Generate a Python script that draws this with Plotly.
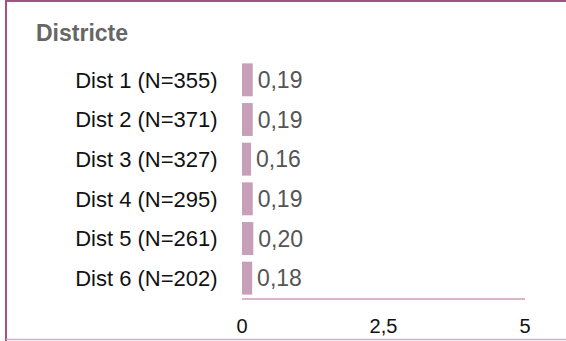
import plotly.graph_objects as go

categories = ["Dist 1 (N=355)", "Dist 2 (N=371)", "Dist 3 (N=327)",
              "Dist 4 (N=295)", "Dist 5 (N=261)", "Dist 6 (N=202)"]
values = [0.19, 0.19, 0.16, 0.19, 0.20, 0.18]
x_tickvals = [0, 2.5, 5]
x_ticktext = ["0", "2,5", "5"]
title_text = "Districte"

W, H = 566, 341
L, R, T, B = 242, 41, 60, 43
pw, ph = W - L - R, H - T - B

def px(x):
    return (x - L) / pw

def py(y):
    return (H - B - y) / ph

FONT = "Liberation Sans, Arial, sans-serif"

fig = go.Figure(go.Bar(
    y=categories, x=values, orientation="h",
    marker=dict(color="#c89fb8", line=dict(width=0)),
    texttemplate="\u200a%{x:.2f}", textposition="outside",
    textfont=dict(family=FONT, size=23, color="#555555"),
    cliponaxis=False,
))

fig.update_layout(
    width=W, height=H,
    margin=dict(l=L, r=R, t=T, b=B, pad=0, autoexpand=False),
    paper_bgcolor="white", plot_bgcolor="white",
    separators=", ",
    bargap=0.17,
    showlegend=False,
    font=dict(family=FONT, color="#111111"),
    title=dict(text="<b>" + title_text + "</b>", x=36 / W, xref="container", xanchor="left",
               y=1 - 33 / H, yref="container", yanchor="middle",
               font=dict(family=FONT, size=23, color="#666666")),
    xaxis=dict(range=[0, 5], tickvals=x_tickvals, ticktext=x_ticktext, automargin=False,
               showgrid=False, zeroline=False, showline=True,
               linecolor="#dcb3c8", linewidth=2,
               ticks="outside", ticklen=9, tickcolor="rgba(0,0,0,0)",
               tickfont=dict(family=FONT, size=20, color="#111111")),
    yaxis=dict(autorange="reversed", automargin=False,
               showgrid=False, zeroline=False, showline=False,
               ticks="outside", ticklen=19, tickcolor="rgba(0,0,0,0)",
               tickfont=dict(family=FONT, size=22, color="#111111")),
    shapes=[
        dict(type="line", xref="paper", yref="paper", x0=px(6), x1=px(6), y0=py(0), y1=py(341),
             line=dict(color="#a3537f", width=2)),
        dict(type="line", xref="paper", yref="paper", x0=px(5), x1=px(566), y0=py(1), y1=py(1),
             line=dict(color="#a3537f", width=2)),
        dict(type="line", xref="paper", yref="paper", x0=px(6), x1=px(566), y0=py(339.5), y1=py(339.5),
             line=dict(color="#dcaac5", width=1.5)),
    ],
)

fig.write_html("out.html",
               post_script="document.documentElement.style.margin='0';document.body.style.margin='0';",
               config={"displayModeBar": False})
